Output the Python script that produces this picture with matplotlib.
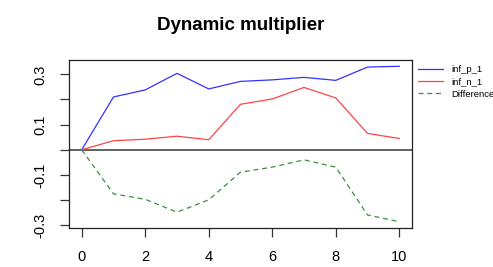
import matplotlib
matplotlib.use("Agg")
import matplotlib.pyplot as plt

horizon = list(range(11))
inf_p_1 = [0.0, 0.210, 0.238, 0.304, 0.242, 0.272, 0.278, 0.288, 0.276, 0.329, 0.332]
inf_n_1 = [0.0, 0.036, 0.042, 0.054, 0.040, 0.181, 0.202, 0.248, 0.206, 0.065, 0.045]
difference = [0.0, -0.175, -0.197, -0.248, -0.199, -0.089, -0.069, -0.040, -0.069, -0.259, -0.286]
xticks = [0, 2, 4, 6, 8, 10]
yticks = [-0.3, -0.2, -0.1, 0.0, 0.1, 0.2, 0.3]
ylabels = ["-0.3", "", "-0.1", "", "0.1", "", "0.3"]

plt.rcParams['font.family'] = ['Liberation Sans', 'DejaVu Sans']
fig = plt.figure(figsize=(4.93, 2.67), dpi=100)
ax = fig.add_axes([69/493, 1-228/267, (412-69)/493, (228-60)/267])

l1, = ax.plot(horizon, inf_p_1, color='#3333ff', lw=0.9, label='inf_p_1')
l2, = ax.plot(horizon, inf_n_1, color='#ff4444', lw=0.9, label='inf_n_1')
l3, = ax.plot(horizon, difference, color='#3f8f3f', lw=0.9, ls=(0, (4, 3)), label='Difference')
ax.axhline(0, color='#555555', lw=1.3, zorder=0)

ax.set_xlim(-0.4, 10.4)
ax.set_ylim(-0.311, 0.357)
ax.set_xticks(xticks)
ax.set_xticklabels([str(v) for v in xticks], fontsize=10.5)
ax.set_yticks(yticks)
ax.set_yticklabels(ylabels, fontsize=10.5, rotation=90, va='center')
ax.tick_params(length=6.5, width=0.9, color='#333333', pad=9)
for s in ax.spines.values():
    s.set_linewidth(0.9)
    s.set_color('#222222')

fig.text(240.5/493, 1-30/267, 'Dynamic multiplier', ha='center', va='baseline',
         fontsize=13.5, fontweight='bold')

fig.legend(handles=[l1, l2, l3], loc='upper left', bbox_to_anchor=(418/493, 1-65/267),
           frameon=False, fontsize=6.8, handlelength=2.6, handletextpad=0.9,
           labelspacing=0.35, borderaxespad=0, borderpad=0)

fig.savefig('out.png', dpi=100)
